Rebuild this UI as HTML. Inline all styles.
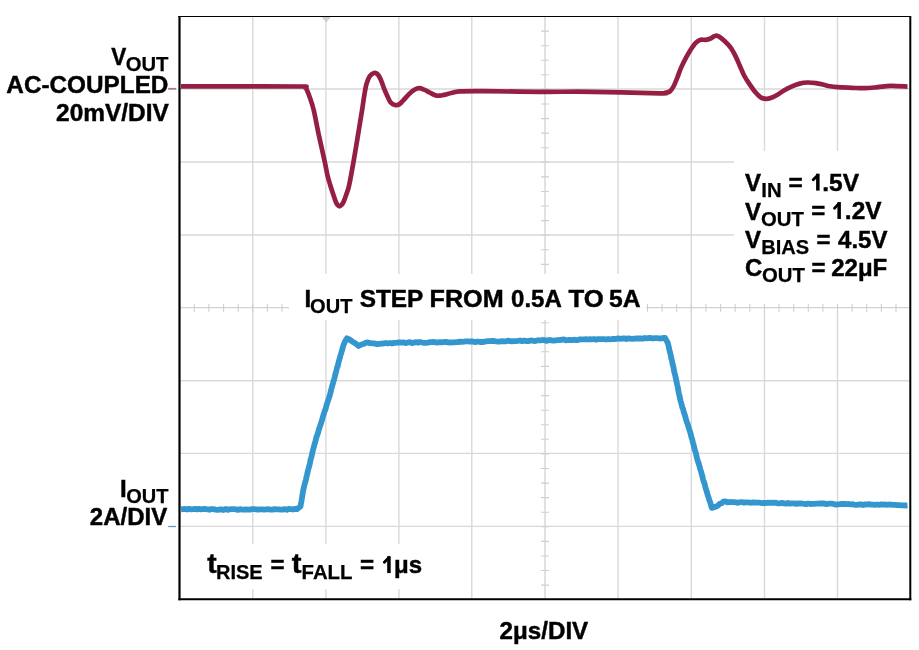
<!DOCTYPE html>
<html><head><meta charset="utf-8"><style>
html,body{margin:0;padding:0;background:#fff;width:919px;height:650px;overflow:hidden}
svg{position:absolute;left:0;top:0;will-change:transform}
text{font-family:"Liberation Sans",sans-serif;font-weight:bold;fill:#000;stroke:#000;stroke-width:0.45px}
.s{stroke-width:0.25px}
</style></head><body>
<svg width="919" height="650" viewBox="0 0 919 650">
<g stroke="#d9d9d9" stroke-width="1.6" fill="none">
<line x1="252.8" y1="16" x2="252.8" y2="599" stroke-width="1.4"/><line x1="325.9" y1="16" x2="325.9" y2="599" stroke-width="1.4"/><line x1="398.9" y1="16" x2="398.9" y2="599" stroke-width="1.4"/><line x1="471.8" y1="16" x2="471.8" y2="599" stroke-width="1.4"/><line x1="618.0" y1="16" x2="618.0" y2="599" stroke-width="1.4"/><line x1="691.3" y1="16" x2="691.3" y2="599" stroke-width="1.4"/><line x1="764.5" y1="16" x2="764.5" y2="599" stroke-width="1.4"/><line x1="837.5" y1="16" x2="837.5" y2="599" stroke-width="1.4"/><line x1="179" y1="89.0" x2="910" y2="89.0" stroke-width="1.4"/><line x1="179" y1="162.0" x2="910" y2="162.0" stroke-width="1.4"/><line x1="179" y1="235.0" x2="910" y2="235.0" stroke-width="1.4"/><line x1="179" y1="380.7" x2="910" y2="380.7" stroke-width="1.4"/><line x1="179" y1="453.4" x2="910" y2="453.4" stroke-width="1.4"/><line x1="179" y1="526.4" x2="910" y2="526.4" stroke-width="1.4"/>
</g>
<path d="M321.6 17L330.8 17L326.2 22.6Z" fill="#d0d0d0"/>
<rect x="734" y="151" width="176" height="160" fill="#fff"/>
<g stroke="#d2d2d2" stroke-width="1.3" fill="none">
<line x1="545.0" y1="16" x2="545.0" y2="599" /><line x1="179" y1="307.7" x2="910" y2="307.7" />
<path d="M194.3 303.7V311.7M208.9 303.7V311.7M223.6 303.7V311.7M238.2 303.7V311.7M252.8 303.7V311.7M267.4 303.7V311.7M282.0 303.7V311.7M296.6 303.7V311.7M311.3 303.7V311.7M325.9 303.7V311.7M340.5 303.7V311.7M355.1 303.7V311.7M369.7 303.7V311.7M384.4 303.7V311.7M399.0 303.7V311.7M413.6 303.7V311.7M428.2 303.7V311.7M442.8 303.7V311.7M457.4 303.7V311.7M472.1 303.7V311.7M486.7 303.7V311.7M501.3 303.7V311.7M515.9 303.7V311.7M530.5 303.7V311.7M545.1 303.7V311.7M559.8 303.7V311.7M574.4 303.7V311.7M589.0 303.7V311.7M603.6 303.7V311.7M618.2 303.7V311.7M632.9 303.7V311.7M647.5 303.7V311.7M662.1 303.7V311.7M676.7 303.7V311.7M691.3 303.7V311.7M705.9 303.7V311.7M720.6 303.7V311.7M735.2 303.7V311.7M749.8 303.7V311.7M764.4 303.7V311.7M779.0 303.7V311.7M793.7 303.7V311.7M808.3 303.7V311.7M822.9 303.7V311.7M837.5 303.7V311.7M852.1 303.7V311.7M866.7 303.7V311.7M881.4 303.7V311.7M896.0 303.7V311.7M541.0 31.1H549.0M541.0 45.7H549.0M541.0 60.2H549.0M541.0 74.8H549.0M541.0 89.4H549.0M541.0 104.0H549.0M541.0 118.6H549.0M541.0 133.1H549.0M541.0 147.7H549.0M541.0 162.3H549.0M541.0 176.9H549.0M541.0 191.5H549.0M541.0 206.0H549.0M541.0 220.6H549.0M541.0 235.2H549.0M541.0 249.8H549.0M541.0 264.4H549.0M541.0 278.9H549.0M541.0 293.5H549.0M541.0 308.1H549.0M541.0 322.7H549.0M541.0 337.3H549.0M541.0 351.8H549.0M541.0 366.4H549.0M541.0 381.0H549.0M541.0 395.6H549.0M541.0 410.2H549.0M541.0 424.7H549.0M541.0 439.3H549.0M541.0 453.9H549.0M541.0 468.5H549.0M541.0 483.1H549.0M541.0 497.6H549.0M541.0 512.2H549.0M541.0 526.8H549.0M541.0 541.4H549.0M541.0 556.0H549.0M541.0 570.5H549.0M541.0 585.1H549.0" stroke="#cfcfcf" stroke-width="1.1"/>
</g>
<g fill="#fff">
<rect x="289" y="274" width="357" height="46"/>
<rect x="195" y="544" width="240" height="45"/>
</g>
<path d="M181.00 86.40C192.50 86.40 229.83 86.38 250.00 86.40C270.17 86.42 292.92 86.35 302.00 86.50C311.08 86.65 303.75 86.85 304.50 87.30C305.25 87.75 305.58 87.42 306.50 89.20C307.42 90.98 308.80 94.53 310.00 98.00C311.20 101.47 312.23 103.83 313.70 110.00C315.17 116.17 316.95 126.35 318.80 135.00C320.65 143.65 323.37 155.23 324.80 161.90C326.23 168.57 326.50 171.15 327.40 175.00C328.30 178.85 329.12 181.47 330.20 185.00C331.28 188.53 332.95 193.37 333.90 196.20C334.85 199.03 335.28 200.53 335.90 202.00C336.52 203.47 337.00 204.28 337.60 205.00C338.20 205.72 338.85 206.30 339.50 206.30C340.15 206.30 340.83 205.72 341.50 205.00C342.17 204.28 342.70 203.73 343.50 202.00C344.30 200.27 345.35 197.43 346.30 194.60C347.25 191.77 348.00 190.45 349.20 185.00C350.40 179.55 352.03 170.23 353.50 161.90C354.97 153.57 356.57 143.65 358.00 135.00C359.43 126.35 361.03 116.73 362.10 110.00C363.17 103.27 363.67 98.97 364.40 94.60C365.13 90.23 365.60 86.88 366.50 83.80C367.40 80.72 368.53 77.92 369.80 76.10C371.07 74.28 372.83 73.25 374.10 72.90C375.37 72.55 376.30 72.92 377.40 74.00C378.50 75.08 379.62 77.05 380.70 79.40C381.78 81.75 382.82 85.38 383.90 88.10C384.98 90.82 386.10 93.33 387.20 95.70C388.30 98.07 389.23 100.75 390.50 102.30C391.77 103.85 393.35 104.65 394.80 105.00C396.25 105.35 397.75 105.22 399.20 104.40C400.65 103.58 401.87 101.82 403.50 100.10C405.13 98.38 407.18 95.83 409.00 94.10C410.82 92.37 412.68 90.70 414.40 89.70C416.12 88.70 417.67 88.10 419.30 88.10C420.93 88.10 422.48 88.97 424.20 89.70C425.92 90.43 427.78 91.58 429.60 92.50C431.42 93.42 433.47 94.67 435.10 95.20C436.73 95.73 437.77 95.80 439.40 95.70C441.03 95.60 442.90 95.05 444.90 94.60C446.90 94.15 448.88 93.53 451.40 93.00C453.92 92.47 454.57 91.70 460.00 91.40C465.43 91.10 470.67 91.13 484.00 91.20C497.33 91.27 521.83 91.70 540.00 91.80C558.17 91.90 573.00 91.55 593.00 91.80C613.00 92.05 648.02 93.15 660.00 93.30C671.98 93.45 663.27 93.00 664.90 92.70C666.53 92.40 668.37 92.53 669.80 91.50C671.23 90.47 672.27 88.77 673.50 86.50C674.73 84.23 675.97 80.97 677.20 77.90C678.43 74.83 679.47 71.38 680.90 68.10C682.33 64.82 684.15 61.28 685.80 58.20C687.45 55.12 689.15 52.17 690.80 49.60C692.45 47.03 694.07 44.43 695.70 42.80C697.33 41.17 698.97 40.30 700.60 39.80C702.23 39.30 703.85 40.02 705.50 39.80C707.15 39.58 709.05 39.08 710.50 38.50C711.95 37.92 713.08 36.75 714.20 36.30C715.32 35.85 715.98 35.47 717.20 35.80C718.42 36.13 719.75 36.92 721.50 38.30C723.25 39.68 726.10 42.43 727.70 44.10C729.30 45.77 729.82 46.33 731.10 48.30C732.38 50.27 733.95 53.00 735.40 55.90C736.85 58.80 738.35 62.43 739.80 65.70C741.25 68.97 742.47 72.42 744.10 75.50C745.73 78.58 747.78 81.48 749.60 84.20C751.42 86.92 753.18 89.63 755.00 91.80C756.82 93.97 758.68 96.02 760.50 97.20C762.32 98.38 764.10 98.80 765.90 98.90C767.70 99.00 769.30 98.53 771.30 97.80C773.30 97.07 775.72 95.77 777.90 94.50C780.08 93.23 782.05 91.57 784.40 90.20C786.75 88.83 789.47 87.40 792.00 86.30C794.53 85.20 797.05 84.23 799.60 83.60C802.15 82.97 804.57 82.58 807.30 82.50C810.03 82.42 813.28 82.73 816.00 83.10C818.72 83.47 821.27 84.17 823.60 84.70C825.93 85.23 827.67 85.88 830.00 86.30C832.33 86.72 833.97 86.95 837.60 87.20C841.23 87.45 847.27 87.63 851.80 87.80C856.33 87.97 860.48 88.30 864.80 88.20C869.12 88.10 873.38 87.58 877.70 87.20C882.02 86.82 885.73 86.00 890.70 85.90C895.67 85.80 904.70 86.48 907.50 86.60" fill="none" stroke="#951f43" stroke-width="4.7" stroke-linejoin="round" stroke-linecap="butt"/>
<polyline points="181.0,509.3 183.0,509.1 185.1,509.0 187.1,509.5 189.1,508.9 191.1,509.4 193.2,509.2 195.2,508.9 197.2,509.4 199.3,508.9 201.3,509.3 203.3,509.0 205.4,509.0 207.4,509.3 209.4,509.8 211.4,509.1 213.5,509.2 215.5,509.6 217.5,509.9 219.6,509.5 221.6,509.4 223.6,510.0 225.6,509.0 227.7,509.9 229.7,509.3 231.7,509.2 233.8,509.1 235.8,509.3 237.8,509.9 239.9,509.2 241.9,509.6 243.9,509.7 245.9,509.5 248.0,509.6 250.0,509.6 252.0,509.1 254.1,509.1 256.1,509.3 258.2,509.7 260.2,509.4 262.3,509.3 264.3,509.6 266.3,509.4 268.4,509.2 270.4,509.7 272.5,509.6 274.5,509.1 276.6,509.4 278.6,509.4 280.7,509.7 282.7,509.6 284.7,509.1 286.8,509.8 288.8,508.9 290.9,509.2 292.9,509.5 295.0,508.9 297.0,509.2 298.8,507.8 300.5,506.5 300.9,504.0 301.2,502.5 301.6,500.5 301.9,498.2 302.2,496.4 302.6,493.8 302.9,492.1 303.3,489.8 303.8,487.8 304.3,485.7 304.8,483.5 305.4,481.8 305.9,479.9 306.4,477.3 306.9,475.4 307.4,473.2 307.9,470.6 308.4,469.1 309.0,466.9 309.5,465.1 310.0,462.8 310.5,460.1 311.1,458.1 311.6,456.2 312.1,453.9 312.6,451.5 313.1,449.9 313.6,447.7 314.2,445.6 314.7,443.6 315.2,442.3 315.7,440.1 316.3,437.7 317.0,435.8 317.6,433.9 318.2,432.4 318.8,429.6 319.5,427.9 320.1,426.0 320.7,424.3 321.3,422.3 322.0,420.3 322.6,417.9 323.2,415.7 323.9,413.8 324.5,411.7 325.1,410.2 325.8,408.3 326.4,405.5 327.1,403.5 327.7,401.6 328.3,399.6 329.0,397.8 329.6,395.8 330.2,393.7 330.8,391.2 331.4,388.8 331.9,387.0 332.5,384.8 333.1,382.8 333.7,380.6 334.2,379.0 334.8,376.7 335.3,374.4 335.9,372.4 336.4,370.4 337.0,367.7 337.6,366.5 338.1,364.3 338.6,362.3 339.2,359.9 339.8,358.1 340.4,355.6 341.1,353.6 341.7,351.2 342.3,349.7 342.9,347.0 343.6,344.9 344.2,343.3 345.6,340.5 347.0,338.3 349.4,339.4 351.7,341.1 353.4,342.2 355.1,343.1 356.8,344.3 358.5,346.0 360.4,344.9 362.3,344.2 364.2,343.7 366.1,342.6 368.0,342.4 370.2,343.2 372.5,343.4 374.8,343.4 377.0,344.2 379.2,343.8 381.3,343.6 383.5,343.5 385.7,343.0 387.8,343.5 390.0,343.0 392.0,343.5 394.0,342.9 396.0,342.9 398.0,342.5 400.0,342.4 402.0,342.7 404.0,342.5 406.0,343.1 408.0,342.4 410.0,342.2 412.0,343.1 414.0,342.6 416.0,342.2 418.0,342.6 420.0,342.0 422.0,342.5 424.0,342.9 426.0,342.8 428.0,342.6 430.0,342.1 432.0,342.2 434.0,342.0 436.0,342.5 438.0,342.3 440.0,342.2 442.0,342.4 444.0,342.0 446.0,341.8 448.0,342.4 450.0,342.5 452.0,342.3 454.0,342.3 456.0,342.2 458.0,342.1 460.0,341.6 462.0,341.8 464.0,341.6 466.0,341.3 468.0,341.3 470.0,341.5 472.0,341.4 474.0,341.8 476.0,342.0 478.0,341.5 480.0,342.0 482.0,342.0 484.0,341.9 486.0,341.3 488.0,341.1 490.0,341.1 492.0,341.0 494.0,341.0 496.0,341.4 498.0,341.6 500.0,341.5 502.0,341.1 504.0,341.3 506.0,341.4 508.0,340.6 510.0,341.2 512.0,341.4 514.0,341.2 516.0,341.2 518.0,340.9 520.0,340.5 522.0,341.1 524.0,340.6 526.0,341.0 528.0,341.2 530.0,340.6 532.0,340.5 534.0,341.0 536.0,340.8 538.0,340.2 540.0,340.5 542.0,340.1 544.0,340.1 546.0,340.8 548.0,340.6 550.0,339.9 552.0,340.6 554.0,340.7 556.0,340.3 558.0,340.0 560.0,340.1 562.0,339.7 564.0,339.5 566.0,340.4 568.0,340.0 570.0,339.9 572.0,340.2 574.0,339.7 576.0,340.1 578.0,340.0 580.0,339.3 582.0,339.3 584.0,339.3 586.0,339.2 588.0,339.5 590.0,339.2 592.0,339.3 594.0,339.0 596.0,339.7 598.0,339.1 600.0,339.2 602.0,339.1 604.1,339.2 606.1,339.5 608.1,339.0 610.2,339.4 612.2,339.0 614.2,339.0 616.2,338.9 618.3,338.4 620.3,338.8 622.3,338.5 624.4,338.3 626.4,339.0 628.4,338.3 630.5,338.6 632.5,338.8 634.5,338.6 636.6,338.4 638.6,338.5 640.6,338.5 642.7,338.7 644.7,338.0 646.7,338.4 648.8,338.0 650.8,338.0 652.8,338.5 654.8,338.2 656.9,338.2 658.9,338.4 660.9,338.5 663.0,338.0 665.0,338.0 666.4,340.5 667.8,342.8 668.3,344.9 668.8,346.9 669.2,349.2 669.7,351.0 670.2,353.1 670.7,355.1 671.1,357.6 671.6,359.4 672.1,361.3 672.5,363.7 673.0,365.7 673.4,367.0 673.8,369.3 674.2,371.7 674.7,373.6 675.1,374.9 675.5,376.8 676.0,379.2 676.4,381.2 676.8,382.8 677.2,384.9 677.7,386.8 678.1,389.4 678.5,391.5 678.9,393.6 679.3,394.9 679.8,397.4 680.2,399.4 680.6,401.2 681.2,402.9 681.8,405.6 682.4,407.8 683.1,409.0 683.7,411.8 684.3,413.3 684.9,415.4 685.5,417.4 686.2,420.0 686.8,421.9 687.4,423.3 688.1,425.6 688.7,427.7 689.3,429.6 690.0,431.5 690.6,433.9 691.1,435.7 691.6,438.0 692.2,439.3 692.7,441.7 693.2,443.6 693.7,445.1 694.2,447.3 694.7,449.6 695.3,451.4 695.8,452.9 696.3,455.3 696.9,457.8 697.4,459.6 698.0,461.7 698.6,462.9 699.1,465.0 699.7,466.8 700.3,469.5 700.9,471.0 701.4,472.8 702.0,475.2 702.6,477.1 703.1,479.6 703.7,481.5 704.3,482.9 704.9,484.8 705.4,487.6 706.0,489.2 706.6,491.3 707.1,492.7 707.7,495.1 708.4,496.8 709.1,499.6 709.8,501.4 710.5,503.2 711.2,506.2 711.9,507.9 714.0,507.3 716.2,506.5 718.0,505.6 719.8,503.7 721.5,503.3 723.3,501.7 725.4,501.4 727.6,502.3 729.8,502.0 731.9,502.2 733.9,502.1 735.9,502.4 737.9,502.8 739.9,502.2 742.0,502.2 744.0,502.6 746.0,502.4 748.0,502.3 750.0,502.8 752.0,502.5 754.0,502.4 756.0,502.6 758.0,502.7 760.0,502.7 762.0,503.2 764.0,502.8 766.0,503.0 768.0,502.7 770.0,502.9 772.0,502.6 774.0,502.9 776.0,502.7 778.0,503.4 780.0,503.3 782.0,502.9 784.0,503.3 786.0,503.7 788.0,502.9 790.0,503.7 792.0,503.3 794.0,503.4 796.0,503.8 798.0,503.4 800.0,503.5 802.0,503.5 804.1,503.8 806.1,504.1 808.1,503.5 810.1,504.0 812.2,503.9 814.2,503.9 816.2,503.7 818.3,503.7 820.3,503.4 822.3,503.5 824.3,503.5 826.4,504.2 828.4,503.7 830.4,503.7 832.5,503.6 834.5,504.4 836.5,504.5 838.5,504.3 840.6,504.0 842.6,504.0 844.6,504.0 846.7,504.2 848.7,504.0 850.7,504.3 852.7,504.1 854.8,504.9 856.8,504.9 858.8,504.5 860.8,504.3 862.9,505.0 864.9,504.4 866.9,504.5 869.0,504.2 871.0,504.6 873.0,504.7 875.0,504.8 877.1,504.5 879.1,504.8 881.1,504.4 883.2,504.7 885.2,504.5 887.2,504.9 889.2,504.5 891.3,504.6 893.3,504.9 895.3,504.8 897.4,505.2 899.4,505.2 901.4,505.4 903.4,505.4 905.5,505.5 907.5,505.3" fill="none" stroke="#3496ce" stroke-width="5.8" stroke-linejoin="round" stroke-linecap="butt"/>
<g fill="none" stroke="#000">
<line x1="178.2" y1="16.5" x2="911" y2="16.5" stroke-width="1.15"/>
<line x1="179.5" y1="15.9" x2="179.5" y2="600.3" stroke-width="2.2"/>
<line x1="910.3" y1="15.9" x2="910.3" y2="600.3" stroke-width="2"/>
<line x1="178.4" y1="599.2" x2="911.3" y2="599.2" stroke-width="2.1"/>
</g>
<line x1="168.2" y1="88.8" x2="176.3" y2="88.8" stroke="#a87888" stroke-width="1.8"/>
<line x1="168.2" y1="526.5" x2="176" y2="526.5" stroke="#6a98b8" stroke-width="1.3"/>
<text x="111.30" y="64.7" font-size="24" textLength="15.01" lengthAdjust="spacingAndGlyphs">V</text>
<text class="s" x="125.69" y="70.5" font-size="20" textLength="42.73" lengthAdjust="spacingAndGlyphs">OUT</text>
<text x="6.39" y="92.5" font-size="24" textLength="162.03" lengthAdjust="spacingAndGlyphs">AC-COUPLED</text>
<text x="56.08" y="120.8" font-size="24" textLength="112.75" lengthAdjust="spacingAndGlyphs">20mV/DIV</text>
<text x="119.90" y="496.6" font-size="24">I</text>
<text class="s" x="126.20" y="502.5" font-size="20">OUT</text>
<text x="89.80" y="524.5" font-size="24" textLength="77.36" lengthAdjust="spacingAndGlyphs">2A/DIV</text>
<text x="304.60" y="306.8" font-size="24">I</text>
<text class="s" x="310.10" y="312.6" font-size="20" textLength="42.32" lengthAdjust="spacingAndGlyphs">OUT</text>
<text x="359.68" y="306.8" font-size="24" textLength="63.72" lengthAdjust="spacingAndGlyphs">STEP</text>
<text x="429.60" y="306.8" font-size="24" textLength="74.03" lengthAdjust="spacingAndGlyphs">FROM</text>
<text x="511.10" y="306.8" font-size="24" textLength="50.70" lengthAdjust="spacingAndGlyphs">0.5A</text>
<text x="568.40" y="306.8" font-size="24" textLength="35.27" lengthAdjust="spacingAndGlyphs">TO</text>
<text x="609.07" y="306.8" font-size="24" textLength="31.53" lengthAdjust="spacingAndGlyphs">5A</text>
<text x="745.10" y="190.6" font-size="24">V</text>
<text class="s" x="761.28" y="197.0" font-size="20" textLength="20.33" lengthAdjust="spacingAndGlyphs">IN</text>
<text x="788.58" y="190.6" font-size="24" textLength="14.25" lengthAdjust="spacingAndGlyphs">=</text>
<text x="822.26" y="190.6" font-size="24" textLength="36.77" lengthAdjust="spacingAndGlyphs">.5V</text>
<text x="745.00" y="219.5" font-size="24">V</text>
<text class="s" x="760.99" y="225.6" font-size="20" textLength="42.84" lengthAdjust="spacingAndGlyphs">OUT</text>
<text x="811.20" y="219.0" font-size="24">=</text>
<text x="844.86" y="219.0" font-size="24" textLength="36.67" lengthAdjust="spacingAndGlyphs">.2V</text>
<text x="745.10" y="247.8" font-size="24">V</text>
<text class="s" x="761.30" y="254.3" font-size="20" textLength="47.90" lengthAdjust="spacingAndGlyphs">BIAS</text>
<text x="816.50" y="247.6" font-size="24">=</text>
<text x="838.10" y="247.6" font-size="24">4.5V</text>
<text x="744.90" y="275.5" font-size="24">C</text>
<text class="s" x="761.99" y="281.6" font-size="20" textLength="42.84" lengthAdjust="spacingAndGlyphs">OUT</text>
<text x="811.60" y="275.5" font-size="24">=</text>
<text x="831.20" y="275.5" font-size="24">22μF</text>
<text x="207.20" y="573.1" font-size="28" textLength="9.43" lengthAdjust="spacingAndGlyphs">t</text>
<text class="s" x="216.00" y="578.7" font-size="20" textLength="46.69" lengthAdjust="spacingAndGlyphs">RISE</text>
<text x="270.60" y="573.1" font-size="24" textLength="14.02" lengthAdjust="spacingAndGlyphs">=</text>
<text x="291.80" y="573.1" font-size="28" textLength="9.74" lengthAdjust="spacingAndGlyphs">t</text>
<text class="s" x="301.58" y="578.7" font-size="20" textLength="50.83" lengthAdjust="spacingAndGlyphs">FALL</text>
<text x="359.99" y="573.1" font-size="24" textLength="14.13" lengthAdjust="spacingAndGlyphs">=</text>
<text x="394.00" y="573.1" font-size="24" textLength="28.03" lengthAdjust="spacingAndGlyphs">μs</text>
<text x="499.59" y="638.8" font-size="24" textLength="88.67" lengthAdjust="spacingAndGlyphs">2μs/DIV</text>
<path d="M816.10 190.60h3.5v-16.9h-3.5z" fill="#000" stroke="none"/><path d="M817.70 175.20L813.20 179.80" stroke="#000" stroke-width="2.8" stroke-linecap="round" fill="none"/>
<path d="M837.40 219.00h3.5v-16.9h-3.5z" fill="#000" stroke="none"/><path d="M839.00 203.60L834.50 208.20" stroke="#000" stroke-width="2.8" stroke-linecap="round" fill="none"/>
<path d="M387.20 573.10h3.5v-16.9h-3.5z" fill="#000" stroke="none"/><path d="M388.80 557.70L384.30 562.30" stroke="#000" stroke-width="2.8" stroke-linecap="round" fill="none"/>
</svg>
</body></html>
